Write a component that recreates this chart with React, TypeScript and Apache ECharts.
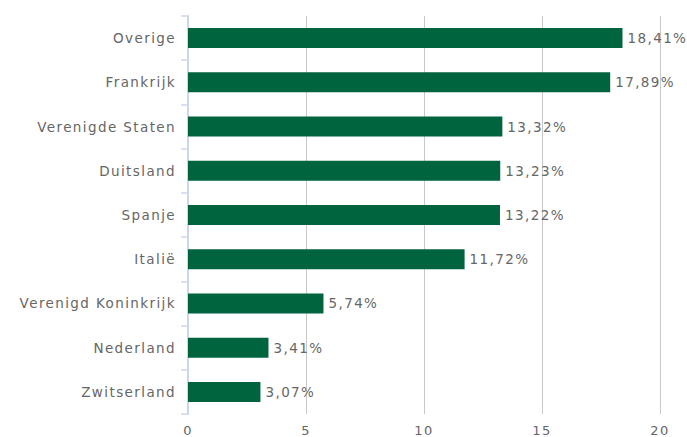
import React, { useEffect, useRef } from "react";
import * as echarts from "echarts";

const categories = [
  "Overige",
  "Frankrijk",
  "Verenigde Staten",
  "Duitsland",
  "Spanje",
  "Italië",
  "Verenigd Koninkrijk",
  "Nederland",
  "Zwitserland",
];
const values = [18.41, 17.89, 13.32, 13.23, 13.22, 11.72, 5.74, 3.41, 3.07];
const xTicks = [0, 5, 10, 15, 20];

export default function App() {
  const ref = useRef<HTMLDivElement>(null);
  useEffect(() => {
    if (!ref.current) return;
    const chart = echarts.init(ref.current, undefined, { renderer: "svg" });
    const font = "DejaVu Sans, Verdana, sans-serif";
    chart.setOption({
      animation: false,
      grid: { left: 188, right: 27, top: 16, bottom: 22, containLabel: false },
      xAxis: {
        type: "value",
        min: xTicks[0],
        max: xTicks[xTicks.length - 1],
        interval: 5,
        axisLine: { show: false },
        axisTick: { show: false },
        axisLabel: { color: "#666", fontSize: 13, fontFamily: font, margin: 10 },
        splitLine: { show: true, lineStyle: { color: "#c8c8c8", width: 1 } },
      },
      yAxis: {
        type: "category",
        data: categories,
        inverse: true,
        axisLine: { show: true, lineStyle: { color: "#ccd6eb", width: 2 } },
        axisTick: { show: true, length: 7, lineStyle: { color: "#ccd6eb", width: 1.5 } },
        axisLabel: { color: "#666", fontSize: 13.5, fontFamily: font, margin: 12 },
        splitLine: { show: false },
      },
      series: [
        {
          type: "bar",
          data: values,
          barWidth: 20,
          itemStyle: { color: "#00643f" },
          label: {
            show: true,
            position: "right",
            distance: 5,
            color: "#666",
            fontSize: 13.5,
            fontFamily: font,
            formatter: (p: any) => p.value.toFixed(2).replace(".", ",") + "%",
          },
        },
      ],
    });
    return () => chart.dispose();
  }, []);
  return (
    <div
      ref={ref}
      style={{
        position: "absolute",
        left: 0,
        top: 0,
        width: 687,
        height: 437,
        letterSpacing: "1.4px",
      }}
    />
  );
}
